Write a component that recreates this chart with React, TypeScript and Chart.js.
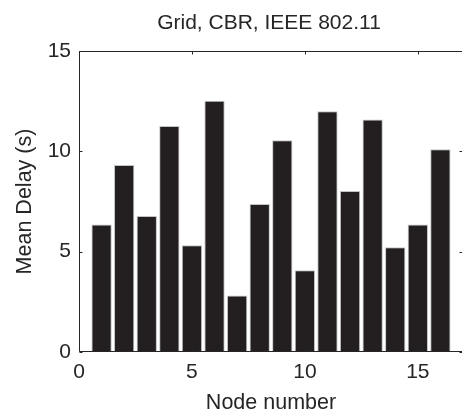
import React, { useEffect, useRef } from "react";
import { Chart, registerables } from "chart.js";

Chart.register(...registerables);

const nodes = [1, 2, 3, 4, 5, 6, 7, 8, 9, 10, 11, 12, 13, 14, 15, 16];
const meanDelay = [6.36, 9.32, 6.78, 11.26, 5.32, 12.52, 2.81, 7.37, 10.55, 4.07, 12.0, 8.02, 11.59, 5.22, 6.36, 10.11];
const xTicks = [0, 5, 10, 15];
const yTicks = [0, 5, 10, 15];
const titleText = "Grid, CBR, IEEE 802.11";
const xLabel = "Node number";
const yLabel = "Mean Delay (s)";

const FONT = "'Liberation Sans', Arial, Helvetica, sans-serif";
const TEXT = "#262626";

const framePlugin = {
  id: "matlabFrame",
  afterDraw(chart: any) {
    const { ctx, chartArea } = chart;
    const xs = chart.scales.x;
    const ys = chart.scales.y;
    const l = Math.round(chartArea.left) + 0.5;
    const r = Math.round(chartArea.right) - 0.5;
    const t = Math.round(chartArea.top) + 0.5;
    const b = Math.round(chartArea.bottom) - 0.5;
    ctx.save();
    ctx.strokeStyle = TEXT;
    ctx.lineWidth = 1;
    ctx.beginPath();
    ctx.rect(l, t, r - l, b - t);
    const tl = 3;
    xTicks.forEach((v) => {
      const px = Math.round(xs.getPixelForValue(v)) + 0.5;
      ctx.moveTo(px, b);
      ctx.lineTo(px, b - tl);
      ctx.moveTo(px, t);
      ctx.lineTo(px, t + tl);
    });
    yTicks.forEach((v) => {
      const py = Math.round(ys.getPixelForValue(v)) + 0.5;
      ctx.moveTo(l, py);
      ctx.lineTo(l + tl, py);
      ctx.moveTo(r, py);
      ctx.lineTo(r - tl, py);
    });
    ctx.stroke();

    // axes title, centred over the plot area
    ctx.fillStyle = TEXT;
    ctx.font = `21px ${FONT}`;
    ctx.textAlign = "center";
    ctx.textBaseline = "middle";
    ctx.fillText(titleText, (chartArea.left + chartArea.right) / 2 - 2, chartArea.top - 28);
    ctx.restore();
  },
};

export default function App() {
  const ref = useRef<HTMLCanvasElement | null>(null);

  useEffect(() => {
    if (!ref.current) return;
    const chart = new Chart(ref.current, {
      type: "bar",
      data: {
        datasets: [
          {
            data: nodes.map((n, i) => ({ x: n, y: meanDelay[i] })),
            backgroundColor: "#231f20",
            borderColor: "#c4c4c4",
            borderWidth: { left: 1, right: 1, top: 1, bottom: 0 },
            barPercentage: 0.9,
            categoryPercentage: 1,
          },
        ],
      },
      options: {
        responsive: false,
        animation: false,
        devicePixelRatio: 1,
        layout: { padding: { left: 0, top: 51, right: 7, bottom: 0 } },
        plugins: {
          legend: { display: false },
          tooltip: { enabled: false },
          title: { display: false },
        },
        scales: {
          x: {
            type: "linear",
            min: 0,
            max: 17,
            offset: false,
            grid: { display: false, drawTicks: false },
            border: { display: false },
            ticks: {
              stepSize: 5,
              includeBounds: false,
              color: TEXT,
              padding: 8,
              maxRotation: 0,
              font: { family: FONT, size: 21, lineHeight: 1.2 },
            },
            title: {
              display: true,
              text: xLabel,
              color: TEXT,
              font: { family: FONT, size: 21.5, lineHeight: 1 },
              padding: { top: 0, bottom: 2 },
            },
            afterFit(scale: any) {
              scale.height = 64;
            },
          },
          y: {
            min: 0,
            max: 15,
            grid: { display: false, drawTicks: false },
            border: { display: false },
            ticks: {
              stepSize: 5,
              color: TEXT,
              padding: 8,
              font: { family: FONT, size: 21, lineHeight: 1.2 },
            },
            title: {
              display: true,
              text: yLabel,
              color: TEXT,
              font: { family: FONT, size: 21.5, lineHeight: 1 },
              padding: { top: 14, bottom: 0 },
            },
            afterFit(scale: any) {
              scale.width = 79;
            },
          },
        },
      },
      plugins: [framePlugin],
    } as any);
    return () => chart.destroy();
  }, []);

  return (
    <div style={{ position: "fixed", left: 0, top: 0, width: 462, height: 416, overflow: "hidden", background: "#fff" }}>
      <canvas ref={ref} width={470} height={416} style={{ display: "block", width: 470, height: 416 }} />
    </div>
  );
}
